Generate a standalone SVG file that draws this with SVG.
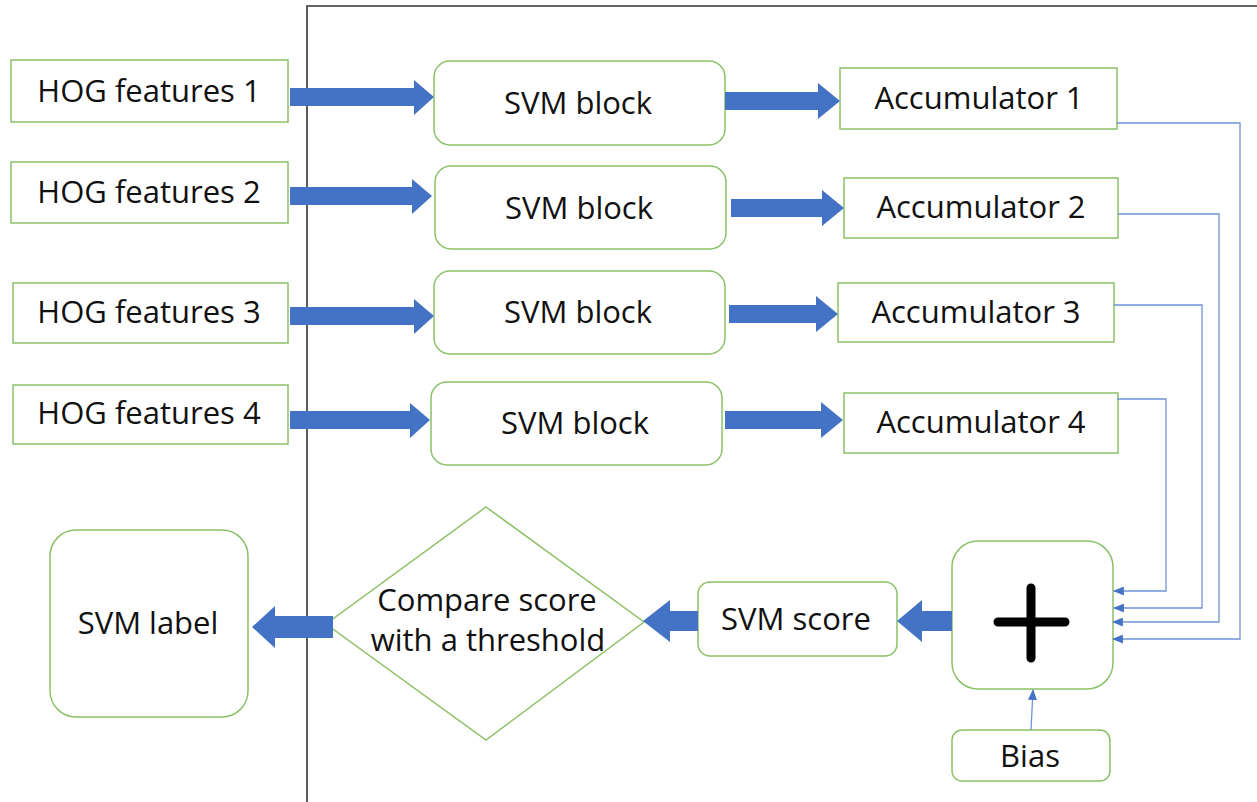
<svg xmlns="http://www.w3.org/2000/svg" width="1257" height="802" viewBox="0 0 1257 802">
  <style>
    .box { fill: #ffffff; stroke: #8cc168; stroke-width: 1.5; }
    .lbl { font-family: "Open Sans", Lato, sans-serif; font-size: 31px; fill: #111; text-anchor: middle; dominant-baseline: central; }
    .big { fill: #4472c4; }
    .thin { fill: none; stroke: #6f93d6; stroke-width: 1.3; }
  </style>
  <defs>
    <marker id="tip" viewBox="0 0 12 10" refX="11" refY="5" markerWidth="11" markerHeight="9" markerUnits="userSpaceOnUse" orient="auto">
      <path d="M0,0 L12,5 L0,10 z" fill="#4472c4"/>
    </marker>
  </defs>
  <rect width="1257" height="802" fill="#ffffff"/>

  <!-- frame -->
  <path d="M307,802 V6 H1257" fill="none" stroke="#333" stroke-width="1.6"/>

  <!-- feature inputs -->
  <g id="hog1"><rect class="box" x="11" y="60" width="277" height="62"/><text class="lbl" x="149" y="90">HOG features 1</text></g>
  <g id="hog2"><rect class="box" x="11" y="162" width="277" height="61"/><text class="lbl" x="149" y="191">HOG features 2</text></g>
  <g id="hog3"><rect class="box" x="13" y="283" width="275" height="60"/><text class="lbl" x="149" y="311">HOG features 3</text></g>
  <g id="hog4"><rect class="box" x="13" y="385" width="275" height="59"/><text class="lbl" x="149" y="412">HOG features 4</text></g>

  <!-- SVM blocks -->
  <g id="svm1"><rect class="box" x="434" y="61" width="291" height="84" rx="16"/><text class="lbl" x="578" y="102">SVM block</text></g>
  <g id="svm2"><rect class="box" x="435" y="166" width="291" height="83" rx="16"/><text class="lbl" x="579" y="207">SVM block</text></g>
  <g id="svm3"><rect class="box" x="434" y="271" width="291" height="83" rx="16"/><text class="lbl" x="578" y="311">SVM block</text></g>
  <g id="svm4"><rect class="box" x="431" y="382" width="291" height="83" rx="16"/><text class="lbl" x="575" y="422">SVM block</text></g>

  <!-- accumulators -->
  <g id="acc1"><rect class="box" x="840" y="68" width="277" height="61"/><text class="lbl" x="979" y="97">Accumulator 1</text></g>
  <g id="acc2"><rect class="box" x="844" y="178" width="274" height="60"/><text class="lbl" x="981" y="206">Accumulator 2</text></g>
  <g id="acc3"><rect class="box" x="838" y="283" width="276" height="59"/><text class="lbl" x="976" y="311">Accumulator 3</text></g>
  <g id="acc4"><rect class="box" x="844" y="393" width="274" height="60"/><text class="lbl" x="981" y="421">Accumulator 4</text></g>

  <!-- adder -->
  <g id="adder">
    <rect class="box" x="952" y="541" width="161" height="148" rx="26"/>
    <path d="M998,622 H1065 M1031,588 V658" stroke="#000" stroke-width="9" stroke-linecap="round"/>
  </g>

  <!-- bias -->
  <g id="bias"><rect class="box" x="952" y="730" width="158" height="51" rx="10"/><text class="lbl" x="1030" y="755">Bias</text></g>

  <!-- score -->
  <g id="score"><rect class="box" x="698" y="582" width="199" height="74" rx="12"/><text class="lbl" x="796" y="618">SVM score</text></g>

  <!-- threshold decision -->
  <g id="compare">
    <path class="box" d="M486,507 L644,622 L486,740 L326,624 Z"/>
    <text class="lbl" x="487" y="599">Compare score</text>
    <text class="lbl" x="488" y="639">with a threshold</text>
  </g>

  <!-- output label -->
  <g id="label"><rect class="box" x="50" y="530" width="198" height="187" rx="26"/><text class="lbl" x="148" y="622">SVM label</text></g>

  <!-- connectors -->
  <g id="connectors">
    <!-- block arrows -->
    <path class="big" d="M290,88 H414 V80 L434,97 L414,115 V106 H290 Z"/>
    <path class="big" d="M725,92 H818 V83 L840,101 L818,119 V110 H725 Z"/>
    <path class="big" d="M290,187 H412 V179 L432,196 L412,214 V205 H290 Z"/>
    <path class="big" d="M731,199 H822 V190 L844,208 L822,226 V217 H731 Z"/>
    <path class="big" d="M290,307 H414 V299 L434,316 L414,334 V325 H290 Z"/>
    <path class="big" d="M729,305 H816 V296 L838,314 L816,332 V323 H729 Z"/>
    <path class="big" d="M290,411 H410 V403 L430,420 L410,438 V429 H290 Z"/>
    <path class="big" d="M725,411 H821 V402 L843,420 L821,438 V429 H725 Z"/>
    <path class="big" d="M952,611 H922 V600 L897,621 L922,642 V631 H952 Z"/>
    <path class="big" d="M698,611 H670 V600 L643,621 L670,642 V631 H698 Z"/>
    <path class="big" d="M333,616 H275 V606 L252,627 L275,648 V638 H333 Z"/>
    <!-- accumulator feeds into the adder -->
    <path class="thin" marker-end="url(#tip)" d="M1117,399 H1166 V591 H1114"/>
    <path class="thin" marker-end="url(#tip)" d="M1114,305 H1202 V608 H1114"/>
    <path class="thin" marker-end="url(#tip)" d="M1118,214 H1219 V622 H1113"/>
    <path class="thin" marker-end="url(#tip)" d="M1117,123 H1240 V639 H1113"/>
    <!-- bias into the adder -->
    <path class="thin" marker-end="url(#tip)" d="M1031,730 L1033,690"/>
  </g>
</svg>
